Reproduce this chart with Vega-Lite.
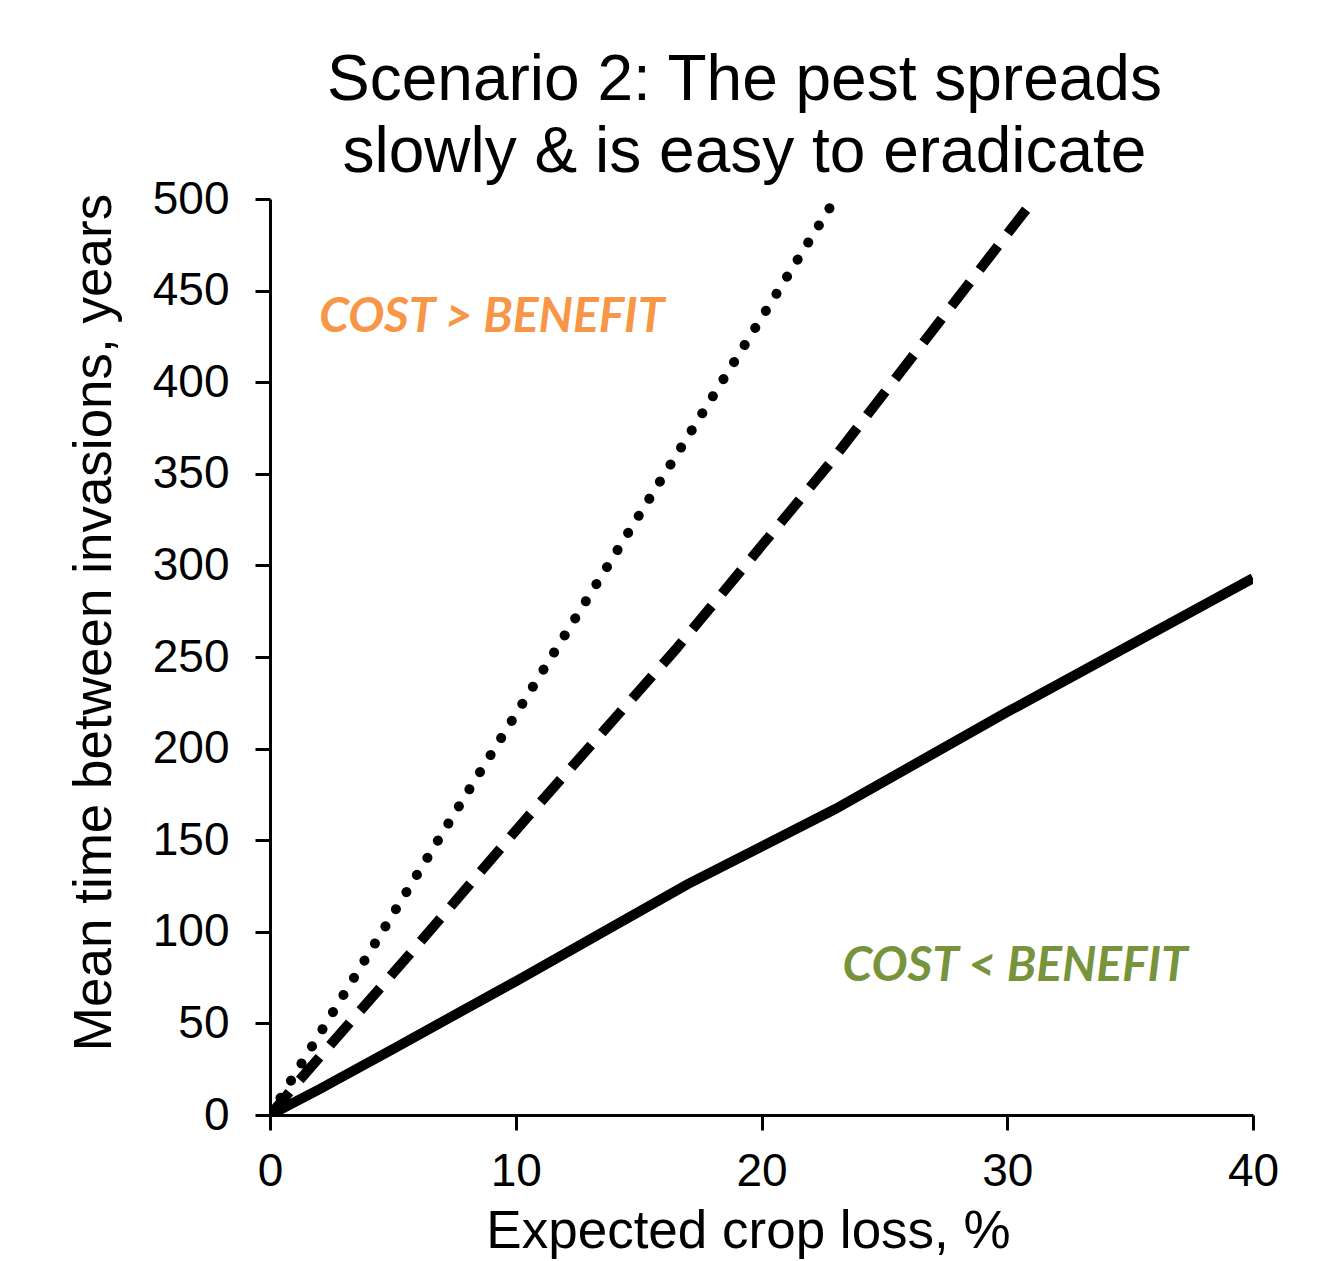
{
  "$schema": "https://vega.github.io/schema/vega-lite/v6.json",
  "width": 983,
  "height": 916,
  "autosize": "none",
  "padding": {"left": 270, "top": 199, "right": 83, "bottom": 146},
  "background": "white",
  "title": {
    "text": ["Scenario 2: The pest spreads", "slowly & is easy to eradicate"],
    "font": "Liberation Sans",
    "fontSize": 64,
    "fontWeight": "normal",
    "lineHeight": 72,
    "color": "black",
    "anchor": "middle",
    "frame": "group",
    "dx": -17,
    "offset": -9
  },
  "config": {
    "view": {"stroke": null},
    "axis": {
      "labelFont": "Liberation Sans",
      "titleFont": "Liberation Sans",
      "labelFontSize": 46,
      "titleFontSize": 53,
      "titleFontWeight": "normal",
      "labelColor": "black",
      "titleColor": "black",
      "domainColor": "black",
      "tickColor": "black",
      "domainWidth": 3,
      "tickWidth": 3,
      "tickSize": 15,
      "labelFlush": false,
      "labelOverlap": false,
      "grid": false
    }
  },
  "datasets": {
    "lines": [
      {"series": "solid", "loss": 0, "years": 0},
      {"series": "solid", "loss": 2, "years": 14},
      {"series": "solid", "loss": 5, "years": 36},
      {"series": "solid", "loss": 10, "years": 73},
      {"series": "solid", "loss": 17, "years": 126},
      {"series": "solid", "loss": 23, "years": 167},
      {"series": "solid", "loss": 30, "years": 220},
      {"series": "solid", "loss": 40, "years": 293},
      {"series": "dashed", "loss": 0, "years": 0},
      {"series": "dashed", "loss": 1.2, "years": 19},
      {"series": "dashed", "loss": 5.7, "years": 88},
      {"series": "dashed", "loss": 10.5, "years": 163},
      {"series": "dashed", "loss": 16.5, "years": 254},
      {"series": "dashed", "loss": 22.8, "years": 356},
      {"series": "dashed", "loss": 31.1, "years": 500},
      {"series": "dotted", "loss": 0, "years": 0},
      {"series": "dotted", "loss": 7.8, "years": 171},
      {"series": "dotted", "loss": 15, "years": 327},
      {"series": "dotted", "loss": 23, "years": 500}
    ],
    "labels": [
      {"label": "COST > BENEFIT", "loss": 2.0, "years": 435, "kind": "cost"},
      {"label": "COST < BENEFIT", "loss": 23.3, "years": 81, "kind": "benefit"}
    ]
  },
  "layer": [
    {
      "data": {"name": "lines"},
      "transform": [{"filter": "datum.series === 'solid'"}],
      "mark": {"type": "line", "color": "black", "strokeWidth": 10, "strokeCap": "butt", "clip": true},
      "encoding": {
        "x": {"field": "loss", "type": "quantitative", "scale": {"domain": [0, 40]},
              "axis": {"values": [0, 10, 20, 30, 40], "title": "Expected crop loss, %", "labelPadding": 19,
                       "titleX": 478, "titleY": 132, "titleBaseline": "alphabetic", "titleAlign": "center"}},
        "y": {"field": "years", "type": "quantitative", "scale": {"domain": [0, 500]},
              "axis": {"values": [0, 50, 100, 150, 200, 250, 300, 350, 400, 450, 500], "title": "Mean time between invasions, years", "labelPadding": 26,
                       "titleX": -160, "titleY": 423, "titleAngle": -90, "titleBaseline": "alphabetic", "titleAlign": "center"}}
      }
    },
    {
      "data": {"name": "lines"},
      "transform": [{"filter": "datum.series === 'dashed'"}],
      "mark": {"type": "line", "color": "black", "strokeWidth": 10, "strokeDash": [30, 16], "strokeCap": "butt", "clip": true},
      "encoding": {
        "x": {"field": "loss", "type": "quantitative"},
        "y": {"field": "years", "type": "quantitative"}
      }
    },
    {
      "data": {"name": "lines"},
      "transform": [{"filter": "datum.series === 'dotted'"}],
      "mark": {"type": "line", "color": "black", "strokeWidth": 10, "strokeDash": [0.1, 20], "strokeCap": "round", "clip": true},
      "encoding": {
        "x": {"field": "loss", "type": "quantitative"},
        "y": {"field": "years", "type": "quantitative"}
      }
    },
    {
      "data": {"name": "labels"},
      "mark": {"type": "text", "align": "left", "baseline": "middle", "font": "Lato", "fontSize": 48, "fontWeight": "bold", "fontStyle": "italic"},
      "encoding": {
        "x": {"field": "loss", "type": "quantitative"},
        "y": {"field": "years", "type": "quantitative"},
        "text": {"field": "label"},
        "color": {"field": "kind", "type": "nominal", "scale": {"domain": ["cost", "benefit"], "range": ["#F79646", "#77933C"]}, "legend": null}
      }
    }
  ]
}
